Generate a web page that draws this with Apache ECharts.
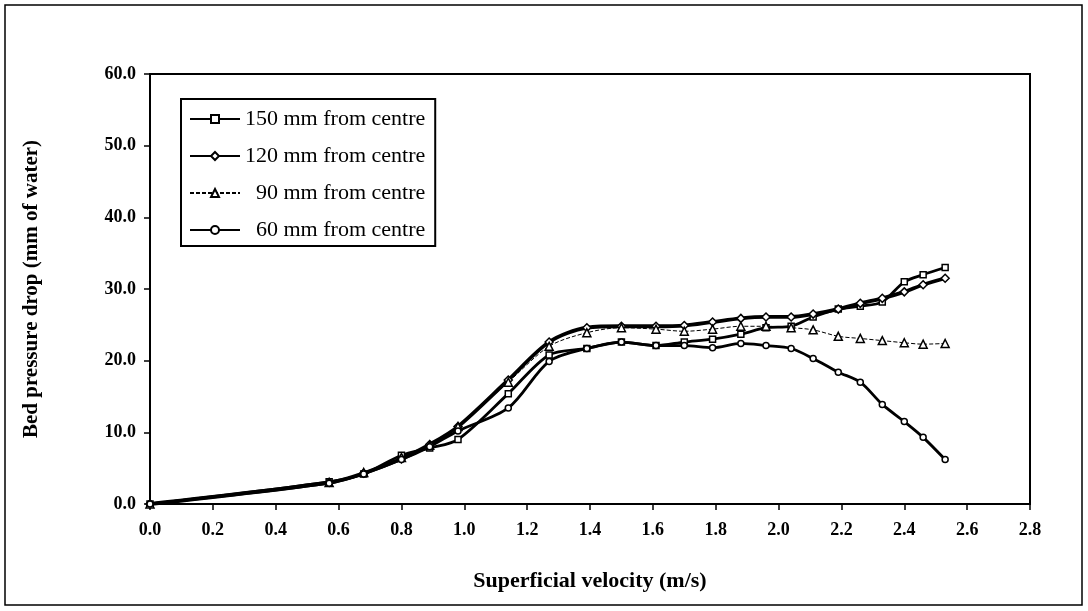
<!DOCTYPE html>
<html>
<head>
<meta charset="utf-8">
<script src="https://cdn.jsdelivr.net/npm/echarts@6/dist/echarts.min.js"></script>
<style>
html,body{margin:0;padding:0;background:#fff;}
#chart{width:1088px;height:611px;}
</style>
</head>
<body>
<div id="chart"></div>
<script>
var velocity = [0, 0.57, 0.68, 0.80, 0.89, 0.98, 1.14, 1.27, 1.39, 1.50, 1.61, 1.70, 1.79, 1.88, 1.96, 2.04, 2.11, 2.19, 2.26, 2.33, 2.40, 2.46, 2.53];
var mm150 = [0, 3.1, 4.2, 6.8, 7.8, 9.0, 15.4, 20.8, 21.7, 22.6, 22.1, 22.6, 23.0, 23.7, 24.6, 24.8, 26.1, 27.2, 27.6, 28.2, 31.0, 32.0, 33.0];
var mm120 = [0, 3.0, 4.3, 6.3, 8.3, 10.8, 17.3, 22.6, 24.6, 24.8, 24.8, 24.9, 25.4, 25.9, 26.1, 26.1, 26.5, 27.2, 28.0, 28.7, 29.6, 30.6, 31.5];
var mm90 = [0, 3.0, 4.4, 6.5, 8.2, 10.8, 17.0, 22.0, 23.9, 24.6, 24.4, 24.1, 24.4, 24.8, 24.8, 24.6, 24.3, 23.4, 23.1, 22.8, 22.5, 22.3, 22.4];
var mm60 = [0, 2.9, 4.2, 6.2, 8.0, 10.2, 13.4, 19.9, 21.7, 22.6, 22.1, 22.1, 21.8, 22.4, 22.1, 21.7, 20.3, 18.4, 17.0, 13.9, 11.5, 9.3, 6.2];
var seriesNames = ['150 mm from centre', '120 mm from centre', '  90 mm from centre', '  60 mm from centre'];
var xTicks = {min: 0, max: 2.8, interval: 0.2};
var yTicks = {min: 0, max: 60, interval: 10};

function pairs(ys) { return velocity.map(function (v, i) { return [v, ys[i]]; }); }

var font = '"Liberation Serif", "Times New Roman", serif';
var chart = echarts.init(document.getElementById('chart'), null, {renderer: 'canvas'});

function mkSeries(name, ys, symbol, size, width, type) {
  return {
    name: name, type: 'line', data: pairs(ys), smooth: 0.3,
    symbol: symbol, symbolSize: size, showSymbol: true,
    itemStyle: {color: '#fff', borderColor: '#000', borderWidth: 1.5},
    lineStyle: {color: '#000', width: width, type: type},
    emphasis: {disabled: true}
  };
}

chart.setOption({
  animation: false,
  backgroundColor: '#fff',
  graphic: [{
    type: 'rect', shape: {x: 5, y: 5, width: 1077, height: 600},
    style: {fill: null, stroke: '#000', lineWidth: 1.5}, silent: true, z: -1
  }],
  grid: {left: 150, right: 58, top: 74, bottom: 107, show: true, borderColor: '#000', borderWidth: 2, backgroundColor: 'transparent'},
  legend: {
    orient: 'vertical', left: 181, top: 99,
    itemWidth: 50, itemHeight: 10, itemGap: 15,
    padding: [9, 10, 5, 8],
    borderColor: '#000', borderWidth: 2,
    textStyle: {fontFamily: font, fontSize: 22, color: '#000'},
    data: seriesNames
  },
  xAxis: {
    type: 'value', min: xTicks.min, max: xTicks.max, interval: xTicks.interval,
    name: 'Superficial velocity (m/s)', nameLocation: 'middle', nameGap: 66,
    nameTextStyle: {fontFamily: font, fontSize: 22, fontWeight: 'bold', color: '#000'},
    axisLine: {show: true, lineStyle: {color: '#000', width: 2}},
    axisTick: {show: true, inside: false, length: 6, lineStyle: {color: '#000', width: 1.5}},
    axisLabel: {fontFamily: font, fontSize: 18, fontWeight: 'bold', color: '#000', margin: 17,
      formatter: function (v) { return v.toFixed(1); }},
    splitLine: {show: false}
  },
  yAxis: {
    type: 'value', min: yTicks.min, max: yTicks.max, interval: yTicks.interval,
    name: 'Bed pressure drop (mm of water)', nameLocation: 'middle', nameGap: 108,
    nameTextStyle: {fontFamily: font, fontSize: 21, fontWeight: 'bold', color: '#000'},
    axisLine: {show: true, lineStyle: {color: '#000', width: 2}},
    axisTick: {show: true, inside: false, length: 6, lineStyle: {color: '#000', width: 1.5}},
    axisLabel: {fontFamily: font, fontSize: 18, fontWeight: 'bold', color: '#000', margin: 14,
      formatter: function (v) { return v.toFixed(1); }},
    splitLine: {show: false}
  },
  series: [
    mkSeries(seriesNames[0], mm150, 'rect', 6, 2.8, 'solid'),
    mkSeries(seriesNames[1], mm120, 'diamond', 8, 3.8, 'solid'),
    mkSeries(seriesNames[2], mm90, 'triangle', 8, 1, [4, 2]),
    mkSeries(seriesNames[3], mm60, 'circle', 6, 2.8, 'solid')
  ]
});
</script>
</body>
</html>
